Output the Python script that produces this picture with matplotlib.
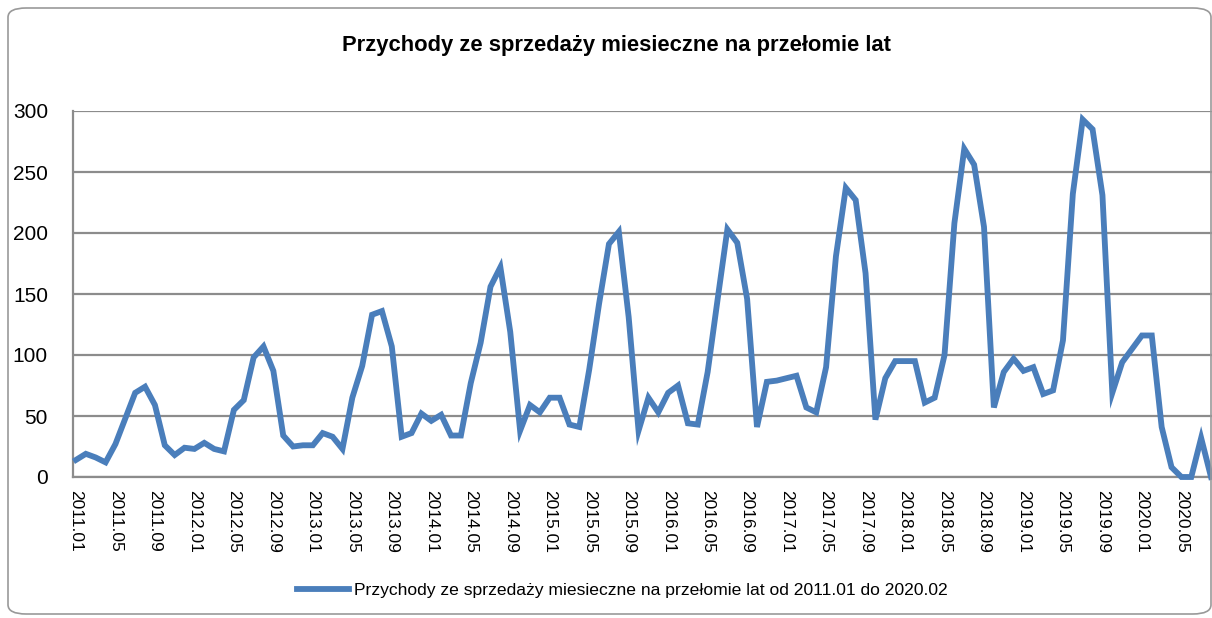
import matplotlib
matplotlib.use("Agg")
import matplotlib.pyplot as plt
from matplotlib.patches import FancyBboxPatch
import numpy as np

# monthly revenue, 2011.01 .. 2020.08
values = [14, 19, 16, 12, 27, 48, 69, 74, 59, 26, 18, 24,
          23, 28, 23, 21, 55, 63, 98, 107, 87, 34, 25, 26,
          26, 36, 33, 23, 65, 91, 133, 136, 107, 33, 36, 52,
          46, 51, 34, 34, 77, 110, 156, 172, 119, 38, 59, 53,
          65, 65, 43, 41, 88, 142, 191, 201, 131, 38, 65, 53,
          69, 75, 44, 43, 86, 145, 203, 192, 146, 41, 78, 79,
          81, 83, 57, 53, 90, 181, 237, 227, 167, 47, 81, 95,
          95, 95, 61, 65, 100, 208, 269, 256, 205, 57, 86, 97,
          87, 90, 68, 71, 112, 232, 293, 285, 231, 69, 94, 105,
          116, 116, 41, 8, 0, 0, 32, 0]

years = list(range(2011, 2021))
months = [f"{y}.{m:02d}" for y in years for m in range(1, 13)][:len(values)]
tick_idx = list(range(0, len(values), 4))
tick_labels = [months[i] for i in tick_idx]

title = "Przychody ze sprzedaży miesieczne na przełomie lat"
legend_label = "Przychody ze sprzedaży miesieczne na przełomie lat od 2011.01 do 2020.02"

plt.rcParams['font.family'] = ['Liberation Sans', 'DejaVu Sans']

fig = plt.figure(figsize=(12.12, 6.18), dpi=100)
ax = fig.add_axes([73 / 1212, 141 / 618, (1212 - 73) / 1212, 366 / 618])

x = np.arange(len(values))
line, = ax.plot(x, values, color='#4A7EBB', lw=4.2, solid_joinstyle='miter',
                clip_on=False, label=legend_label, zorder=3)

ax.set_xlim(-0.3, len(values) - 1 + 0.1)
ax.set_ylim(0, 300)
ax.set_yticks(range(0, 301, 50))
ax.set_xticks(tick_idx)
ax.set_xticklabels(tick_labels, rotation=270, fontsize=12.5, va='top', ha='center')
ax.tick_params(axis='y', labelsize=15, length=0, pad=18)
ax.tick_params(axis='x', length=0, pad=9)
ax.yaxis.grid(True, color='#8c8c8c', lw=1.6)
ax.set_axisbelow(True)
for s in ['top', 'right']:
    ax.spines[s].set_visible(False)
for s in ['left', 'bottom']:
    ax.spines[s].set_color('#8c8c8c')
    ax.spines[s].set_linewidth(1.6)

fig.text(617 / 1212, 1 - 46 / 618, title, ha='center', va='center',
         fontsize=15.8, fontweight='bold')

fig.legend(handles=[line], loc='center', bbox_to_anchor=(622 / 1212, 1 - 590 / 618),
           frameon=False, fontsize=12.6, handlelength=3.0, handletextpad=0.25)

border = FancyBboxPatch((8 / 1212, 4 / 618), (1211 - 8) / 1212, (612 - 6) / 618,
                        boxstyle='round,pad=0,rounding_size=0.015',
                        transform=fig.transFigure, fill=False,
                        edgecolor='#999999', lw=1.2)
fig.patches.append(border)

fig.savefig("out.png", dpi=100)
